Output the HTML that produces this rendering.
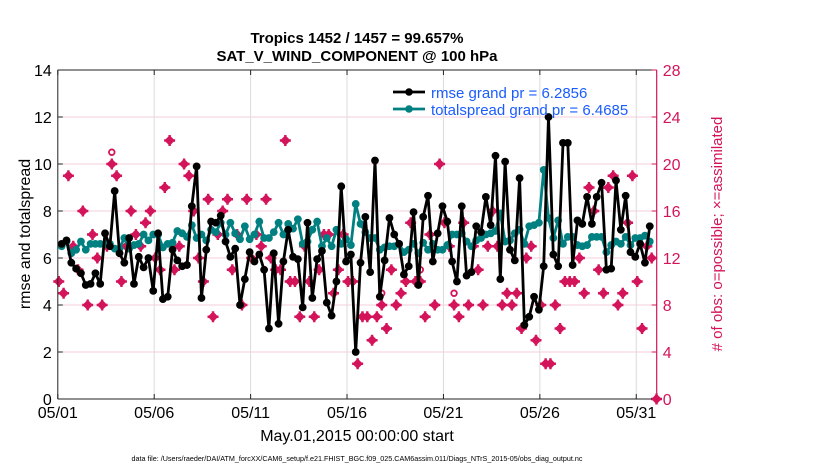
<!DOCTYPE html>
<html><head><meta charset="utf-8">
<style>
body{margin:0;background:#fff;}
svg{display:block;font-family:"Liberation Sans",Arial,sans-serif;}
</style></head>
<body>
<svg id="chart" width="830" height="470" viewBox="0 0 830 470" xmlns="http://www.w3.org/2000/svg">
<text x="357" y="43" text-anchor="middle" font-size="15" font-weight="bold">Tropics 1452 / 1457 = 99.657%</text>
<text x="357" y="61" text-anchor="middle" font-size="15" font-weight="bold">SAT_V_WIND_COMPONENT @ 100 hPa</text>
<g id="grid"></g>
<g id="marks"></g>
<g id="axes"></g>
<text transform="translate(30,234) rotate(-90)" text-anchor="middle" font-size="16">rmse and totalspread</text>
<text transform="translate(722,234) rotate(-90)" text-anchor="middle" font-size="15" fill="#d4145a"># of obs: o=possible; ×=assimilated</text>
<text x="357" y="441" text-anchor="middle" font-size="16">May.01,2015 00:00:00 start</text>
<text x="357" y="461" text-anchor="middle" font-size="7.2">data file: /Users/raeder/DAI/ATM_forcXX/CAM6_setup/f.e21.FHIST_BGC.f09_025.CAM6assim.011/Diags_NTrS_2015-05/obs_diag_output.nc</text>
<g>
<line x1="393" y1="92" x2="425" y2="92" stroke="#000" stroke-width="2.8"/>
<circle cx="409" cy="92" r="3.8" fill="#000"/>
<text x="431" y="98" font-size="15" fill="#1a5cff">rmse grand pr = 6.2856</text>
<line x1="393" y1="109" x2="425" y2="109" stroke="#008080" stroke-width="2.8"/>
<circle cx="409" cy="109" r="3.8" fill="#008080"/>
<text x="431" y="115" font-size="15" fill="#1a5cff">totalspread grand pr = 6.4685</text>
</g>
</svg>
<script>
const xTickLabels = ["05/01","05/06","05/11","05/16","05/21","05/26","05/31"];
const xTickDays = [0,5,10,15,20,25,30];
const yTicks = [0,2,4,6,8,10,12,14];
const y2Ticks = [0,4,8,12,16,20,24,28];
const rmse = [6.6,6.75,5.8,5.55,5.35,4.85,4.9,5.35,4.9,7.05,6.5,8.85,6.2,5.8,6.85,4.9,6.05,5.6,6.0,4.6,7.05,4.25,4.35,6.35,5.9,5.65,5.7,8.2,
9.9,4.3,6.35,7.55,7.5,7.8,6.7,6.05,6.4,4.0,5.1,6.25,5.85,6.15,5.5,3.0,6.2,3.2,5.85,7.2,6.05,5.95,3.9,7.5,4.3,5.95,6.3,4.1,
3.55,5.0,9.05,5.85,6.15,2.0,5.8,7.75,5.4,10.15,4.35,5.9,7.7,7.0,6.6,5.3,5.65,7.95,4.85,7.75,8.65,5.85,7.05,8.2,7.55,5.85,5.0,8.2,
5.25,5.4,7.35,7.1,8.6,7.4,10.35,5.1,10.1,6.35,5.9,9.4,3.15,3.5,4.35,3.8,5.65,12.0,6.15,5.65,10.9,10.9,5.7,7.6,7.45,8.6,
7.45,8.6,9.2,5.5,5.55,9.3,7.2,8.65,6.25,6.05,6.6,5.8,7.35];
const spread = [6.5,6.7,6.2,6.35,6.7,6.35,6.6,6.6,6.6,6.6,6.6,6.4,6.4,6.85,6.4,6.55,6.6,7.0,6.75,7.0,7.0,6.45,6.6,6.65,7.15,7.05,6.9,7.4,
6.85,7.0,6.75,7.2,7.1,7.5,7.0,7.5,7.05,6.8,7.35,6.8,7.0,7.55,6.85,6.85,7.1,7.5,7.0,7.45,7.25,7.65,6.6,6.7,7.2,7.55,6.5,6.85,
6.5,7.2,6.6,6.8,6.55,8.3,7.45,7.1,6.85,6.85,6.35,6.45,6.5,6.5,6.6,6.25,6.35,6.6,6.2,6.65,6.35,6.6,6.35,6.35,6.55,7.0,7.0,7.05,
6.7,6.5,6.75,6.85,7.0,7.05,7.15,7.9,6.7,6.75,7.05,7.2,6.6,7.35,7.4,7.5,9.75,7.7,6.85,7.6,6.6,6.9,6.9,6.55,6.5,6.55,
6.9,6.9,6.9,6.25,6.55,6.7,6.6,6.9,6.55,6.85,6.85,6.95,6.7];
const nAssim = [10,9,19,13,11,16,8,14,12,8,13,20,19,10,13,16,14,13,15,16,12,11,18,22,11,13,20,19,16,
12,10,17,7,14,16,17,11,14,8,17,12,14,13,17,12,11,11,22,10,10,7,13,10,7,11,14,
14,9,11,14,10,10,3,7,7,5,7,8,6,11,8,9,10,15,10,10,7,14,8,20,15,13,8,7,15,
8,13,11,8,13,16,13,8,9,8,9,6,12,13,5,8,3,3,8,6,10,10,10,12,9,18,16,11,9,18,19,8,9,15,19,10,6,13,12,0];
const possIdx = [11,33,67,75,82];
const nPossible = [21,15,9,11,9];

const X0=57.8, X1=656.7, DAYS=31.06, Y0=399, Y1=70;
const x = d => X0 + (X1-X0)*d/DAYS;
const y = v => Y0 - (Y0-Y1)*v/14;
const y2 = v => Y0 - (Y0-Y1)*v/28;
const tMain = i => 0.2 + 0.25*i;
const tObs = k => 0.05 + 0.25*k;
const NS="http://www.w3.org/2000/svg";
function mk(tag, parent, attrs){const e=document.createElementNS(NS,tag);for(const k in attrs)e.setAttribute(k,attrs[k]);parent.appendChild(e);return e;}
const grid=document.getElementById('grid'), marks=document.getElementById('marks'), axes=document.getElementById('axes');

y2Ticks.forEach(v=>{ if(v>0&&v<28){const l=mk('line',grid,{x1:X0,x2:X1,y1:y2(v),y2:y2(v),stroke:'#f4cfdc','stroke-width':1});

}});
xTickDays.forEach(d=>{ if(d>0){const l=mk('line',grid,{x1:x(d),x2:x(d),y1:Y1,y2:Y0,stroke:'#dcdcdc','stroke-width':1});

}});

function diamond(cx,cy){const r=5.2;return `${cx},${cy-r} ${cx+r},${cy} ${cx},${cy+r} ${cx-r},${cy}`;}
nAssim.forEach((v,k)=>{const cx=x(tObs(k)),cy=y2(v);
const p=mk('polygon',marks,{points:diamond(cx,cy),fill:'#d4145a'});


const s=mk('path',marks,{d:`M${cx-5.5},${cy}H${cx+5.5}M${cx},${cy-5.5}V${cy+5.5}`,stroke:'#d4145a','stroke-width':2.4});

});
possIdx.forEach((k,j)=>{const c=mk('circle',marks,{cx:x(tObs(k)),cy:y2(nPossible[j]),r:2.8,fill:'none',stroke:'#d4145a','stroke-width':1.8});

});

function series(vals,color,name){
 const pts=vals.map((v,i)=>x(tMain(i)).toFixed(1)+','+y(v).toFixed(1)).join(' ');
 const pl=mk('polyline',marks,{points:pts,fill:'none',stroke:color,'stroke-width':2.8,'stroke-linejoin':'round'});
 
 
 vals.forEach((v,i)=>{const c=mk('circle',marks,{cx:x(tMain(i)),cy:y(v),r:3.9,fill:color});
 
 });
}
series(spread,'#008080','totalspread');
series(rmse,'#000000','rmse');

mk('line',axes,{x1:X0,x2:X1,y1:Y1,y2:Y1,stroke:'#222','stroke-width':1});
mk('line',axes,{x1:X0,x2:X1,y1:Y0,y2:Y0,stroke:'#222','stroke-width':1});
mk('line',axes,{x1:X0,x2:X0,y1:Y1,y2:Y0,stroke:'#222','stroke-width':1});
mk('line',axes,{x1:X1,x2:X1,y1:Y1,y2:Y0,stroke:'#d4145a','stroke-width':1.2});
yTicks.forEach(v=>{mk('line',axes,{x1:X0,x2:X0+5,y1:y(v),y2:y(v),stroke:'#222'});
const t=mk('text',axes,{x:X0-6,y:y(v)+6,'text-anchor':'end','font-size':16});t.textContent=v;

});
y2Ticks.forEach(v=>{mk('line',axes,{x1:X1-5,x2:X1,y1:y2(v),y2:y2(v),stroke:'#d4145a'});
const t=mk('text',axes,{x:X1+6,y:y2(v)+6,'font-size':16,fill:'#d4145a'});t.textContent=v;

});
xTickDays.forEach((d,i)=>{mk('line',axes,{x1:x(d),x2:x(d),y1:Y0,y2:Y0-5,stroke:'#222'});mk('line',axes,{x1:x(d),x2:x(d),y1:Y1,y2:Y1+5,stroke:'#222'});
const t=mk('text',axes,{x:x(d),y:Y0+19,'text-anchor':'middle','font-size':16});t.textContent=xTickLabels[i];

});
</script>
</body></html>
